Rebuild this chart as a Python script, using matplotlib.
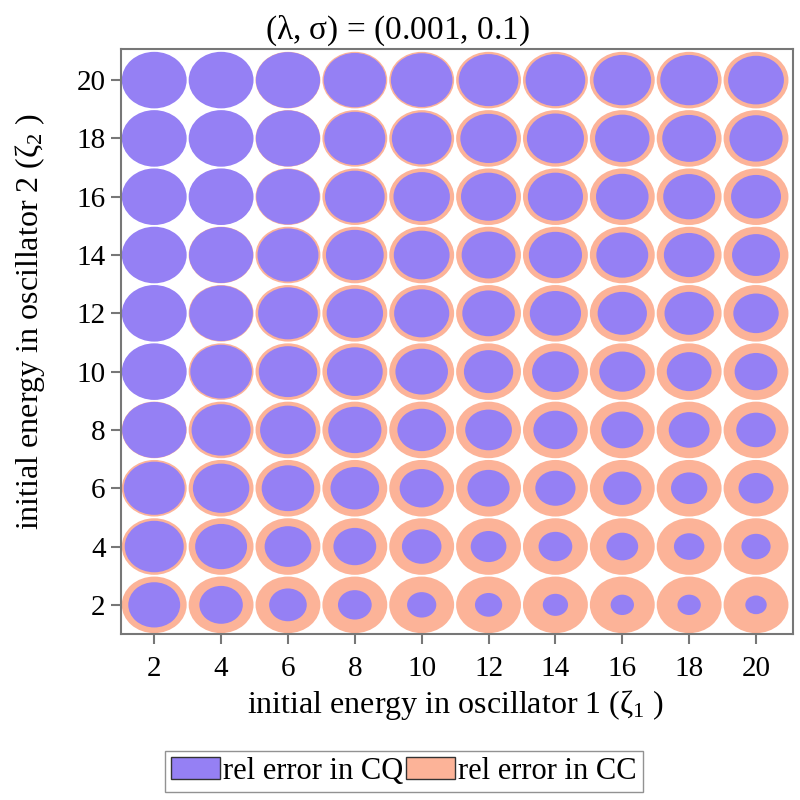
import numpy as np
import matplotlib
matplotlib.use("Agg")
import matplotlib.pyplot as plt
from matplotlib.patches import Ellipse, Patch

plt.rcParams['font.family'] = ['Liberation Serif', 'DejaVu Serif']
plt.rcParams['mathtext.fontset'] = 'custom'
plt.rcParams['mathtext.rm'] = 'Liberation Serif'
plt.rcParams['mathtext.it'] = 'Liberation Serif:italic'

# grid of initial energies
zeta1 = [2, 4, 6, 8, 10, 12, 14, 16, 18, 20]
zeta2 = [2, 4, 6, 8, 10, 12, 14, 16, 18, 20]

# relative error in CQ, scaled so the larger of the two in each cell is 1
# rows: zeta2 = 2 .. 20, columns: zeta1 = 2 .. 20
cq_rel = [
    [0.80, 0.67, 0.58, 0.52, 0.45, 0.42, 0.39, 0.36, 0.36, 0.33],
    [0.91, 0.80, 0.72, 0.66, 0.61, 0.55, 0.52, 0.49, 0.47, 0.45],
    [0.94, 0.87, 0.81, 0.75, 0.68, 0.65, 0.62, 0.59, 0.56, 0.54],
    [0.99, 0.91, 0.86, 0.82, 0.75, 0.72, 0.68, 0.65, 0.63, 0.61],
    [1.00, 0.95, 0.90, 0.86, 0.81, 0.76, 0.72, 0.71, 0.69, 0.66],
    [1.00, 0.98, 0.92, 0.87, 0.85, 0.81, 0.79, 0.76, 0.76, 0.70],
    [1.00, 0.99, 0.94, 0.89, 0.86, 0.83, 0.82, 0.80, 0.78, 0.74],
    [1.00, 1.00, 0.98, 0.92, 0.87, 0.85, 0.85, 0.81, 0.80, 0.77],
    [1.00, 1.00, 0.99, 0.94, 0.92, 0.87, 0.88, 0.84, 0.83, 0.82],
    [1.00, 1.00, 0.99, 0.96, 0.95, 0.92, 0.92, 0.89, 0.89, 0.86],
]

# relative error in CC, same scaling
cc_rel = [
    [1.00, 1.00, 1.00, 1.00, 1.00, 1.00, 1.00, 1.00, 1.00, 1.00],
    [1.00, 1.00, 1.00, 1.00, 1.00, 1.00, 1.00, 1.00, 1.00, 1.00],
    [1.00, 1.00, 1.00, 1.00, 1.00, 1.00, 1.00, 1.00, 1.00, 1.00],
    [1.00, 1.00, 1.00, 1.00, 1.00, 1.00, 1.00, 1.00, 1.00, 1.00],
    [0.98, 1.00, 1.00, 1.00, 1.00, 1.00, 1.00, 1.00, 1.00, 1.00],
    [0.97, 1.00, 1.00, 1.00, 1.00, 1.00, 1.00, 1.00, 1.00, 1.00],
    [0.96, 1.00, 1.00, 1.00, 1.00, 1.00, 1.00, 1.00, 1.00, 1.00],
    [0.95, 0.98, 1.00, 1.00, 1.00, 1.00, 1.00, 1.00, 1.00, 1.00],
    [0.94, 0.97, 1.00, 1.00, 1.00, 1.00, 1.00, 1.00, 1.00, 1.00],
    [0.93, 0.96, 1.00, 1.00, 1.00, 1.00, 1.00, 1.00, 1.00, 1.00],
]

cq_color = '#9580F4'
cc_color = '#FCB398'
radius = 0.97

fig = plt.figure(figsize=(8, 8), dpi=100)
ax = fig.add_axes([0.151, 0.2075, 0.840, 0.731])

# CC circles first, CQ circles drawn on top
for i, y in enumerate(zeta2):
    for j, x in enumerate(zeta1):
        s = cc_rel[i][j]
        ax.add_patch(Ellipse((x, y), 2 * radius * s, 2 * radius * s,
                             facecolor=cc_color, edgecolor='none'))
        s = cq_rel[i][j]
        ax.add_patch(Ellipse((x, y), 2 * radius * s, 2 * radius * s,
                             facecolor=cq_color, edgecolor='none'))

ax.set_xlim(1.0, 21.1)
ax.set_ylim(1.0, 21.06)
ax.set_xticks(zeta1)
ax.set_yticks(zeta2)
ax.tick_params(labelsize=21, color='#777777', length=7, width=1.5, direction='out')
ax.tick_params(axis='x', pad=9)
ax.tick_params(axis='y', pad=4)
for sp in ax.spines.values():
    sp.set_color('#777777')
    sp.set_linewidth(1.5)

fig.text(456 / 800, 1 - 705 / 800, r"initial energy in oscillator 1 ($\mathrm{\zeta}_1$ )",
         fontsize=23, ha='center', va='center')
fig.text(30 / 800, 1 - 321 / 800, r"initial energy in oscillator 2 ($\mathrm{\zeta}_2$ )",
         fontsize=23, ha='center', va='center', rotation=90)
fig.text(0.497, 0.962, r"$\mathrm{(\lambda}$, $\mathrm{\sigma)}$ = (0.001, 0.1)", fontsize=24,
         ha='center', va='center')

handles = [Patch(facecolor=cq_color, edgecolor='#333333', linewidth=1, label='rel error in CQ'),
           Patch(facecolor=cc_color, edgecolor='#333333', linewidth=1, label='rel error in CC')]
fig.legend(handles=handles, loc='center', bbox_to_anchor=(0.505, 0.036), ncol=2,
           fontsize=22, frameon=True, fancybox=False, edgecolor='#777777',
           handlelength=1.6, handleheight=0.7, handletextpad=0.1, columnspacing=0.1,
           borderpad=0.2, borderaxespad=0)

fig.savefig('out.png', dpi=100)
